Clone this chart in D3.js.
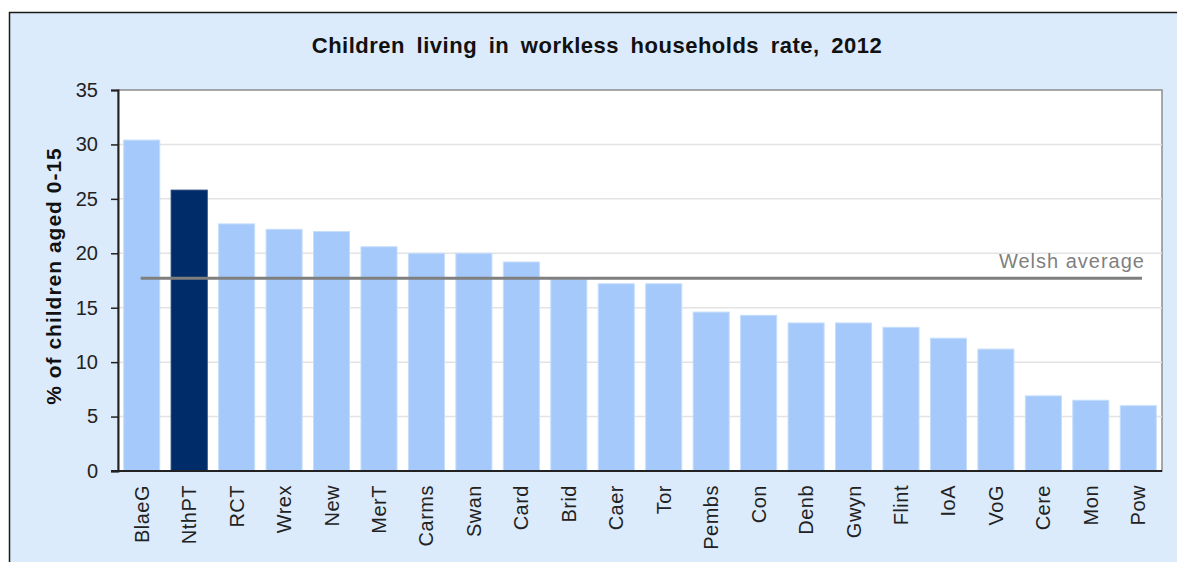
<!DOCTYPE html>
<html>
<head>
<meta charset="utf-8">
<script src="https://cdn.jsdelivr.net/npm/d3@7"></script>
<style>
  body { margin: 0; background: #fff; }
  text { font-family: "Liberation Sans", Arial, sans-serif; }
</style>
</head>
<body>
<svg id="chart" width="1177" height="562"></svg>
<script>
// data
const areas = ["BlaeG", "NthPT", "RCT", "Wrex", "New", "MerT", "Carms", "Swan", "Card", "Brid", "Caer",
  "Tor", "Pembs", "Con", "Denb", "Gwyn", "Flint", "IoA", "VoG", "Cere", "Mon", "Pow"];
const rates = [30.4, 25.8, 22.7, 22.2, 22.0, 20.6, 20.0, 20.0, 19.2, 17.6, 17.2,
  17.2, 14.6, 14.3, 13.6, 13.6, 13.2, 12.2, 11.2, 6.9, 6.5, 6.0];
const highlight = "NthPT";
const welshAverage = 17.7;
const yTicks = [0, 5, 10, 15, 20, 25, 30, 35];

const svg = d3.select("#chart");
const margin = {top: 90, right: 15, bottom: 91, left: 118};
const width = 1177 - margin.left - margin.right;
const height = 562 - margin.top - margin.bottom;

// light blue chart background with border on top / left
svg.append("rect")
  .attr("x", 9.5).attr("y", 12.5)
  .attr("width", 1300).attr("height", 700)
  .attr("fill", "#dcebfc")
  .attr("stroke", "#1a1a1a")
  .attr("stroke-width", 1.5);

svg.append("text")
  .attr("x", 597).attr("y", 53)
  .attr("text-anchor", "middle")
  .attr("font-size", 22)
  .attr("font-weight", "bold")
  .attr("fill", "#111")
  .attr("letter-spacing", 0.5)
  .attr("word-spacing", 5)
  .text("Children living in workless households rate, 2012");

const g = svg.append("g").attr("transform", `translate(${margin.left},${margin.top})`);

const x = d3.scaleBand().domain(areas).range([0, width]).paddingInner(0.24).paddingOuter(0.12);
const y = d3.scaleLinear().domain([0, 35]).range([height, 0]);

g.append("rect")
  .attr("width", width).attr("height", height)
  .attr("fill", "#fff")
  .attr("stroke", "#8c8c8c")
  .attr("stroke-width", 1.5);

// gridlines
g.selectAll("line.grid")
  .data(yTicks.filter(d => d > 0 && d < 35))
  .join("line")
  .attr("class", "grid")
  .attr("x1", 0).attr("x2", width)
  .attr("y1", d => y(d)).attr("y2", d => y(d))
  .attr("stroke", "#e3e3e3")
  .attr("stroke-width", 1.5);

g.selectAll("rect.bar")
  .data(areas)
  .join("rect")
  .attr("class", "bar")
  .attr("x", d => x(d))
  .attr("y", (d, i) => y(rates[i]))
  .attr("width", x.bandwidth())
  .attr("height", (d, i) => height - y(rates[i]))
  .attr("fill", d => d === highlight ? "#002d69" : "#a4c9fa")
  .attr("stroke", d => d === highlight ? "#1a3f78" : "#c6defc")
  .attr("stroke-width", 1);

// Welsh average line
g.append("line")
  .attr("x1", x(areas[0]) + 17).attr("x2", width - 20)
  .attr("y1", y(welshAverage)).attr("y2", y(welshAverage))
  .attr("stroke", "#7f7f7f")
  .attr("stroke-width", 3);

g.append("text")
  .attr("x", width - 17).attr("y", y(welshAverage) - 10)
  .attr("text-anchor", "end")
  .attr("font-size", 20)
  .attr("letter-spacing", 1)
  .attr("fill", "#7f7f7f")
  .text("Welsh average");

// axes
const yAxis = g.append("g")
  .call(d3.axisLeft(y).tickValues(yTicks).tickSize(7).tickPadding(13));
yAxis.select(".domain").attr("stroke", "#222").attr("stroke-width", 2);
yAxis.selectAll(".tick line").attr("stroke", "#222").attr("stroke-width", 1.5);
yAxis.selectAll(".tick text")
  .attr("font-size", 20)
  .attr("fill", "#222")
  .attr("font-family", "Liberation Sans, Arial, sans-serif");

const xAxis = g.append("g")
  .attr("transform", `translate(0,${height})`)
  .call(d3.axisBottom(x).tickSize(0).tickPadding(0));
xAxis.select(".domain").attr("stroke", "#222").attr("stroke-width", 2)
  .attr("d", `M-7,0H${width}`);
xAxis.selectAll(".tick text")
  .attr("font-size", 20)
  .attr("fill", "#222")
  .attr("font-family", "Liberation Sans, Arial, sans-serif")
  .attr("letter-spacing", 0.5)
  .attr("text-anchor", "end")
  .attr("transform", "rotate(-90)")
  .attr("x", -14)
  .attr("y", 0)
  .attr("dy", "0.35em");

svg.append("text")
  .attr("transform", "translate(61,276) rotate(-90)")
  .attr("text-anchor", "middle")
  .attr("font-size", 21)
  .attr("font-weight", "bold")
  .attr("letter-spacing", 1)
  .attr("fill", "#111")
  .text("% of children aged 0-15");
</script>
</body>
</html>
